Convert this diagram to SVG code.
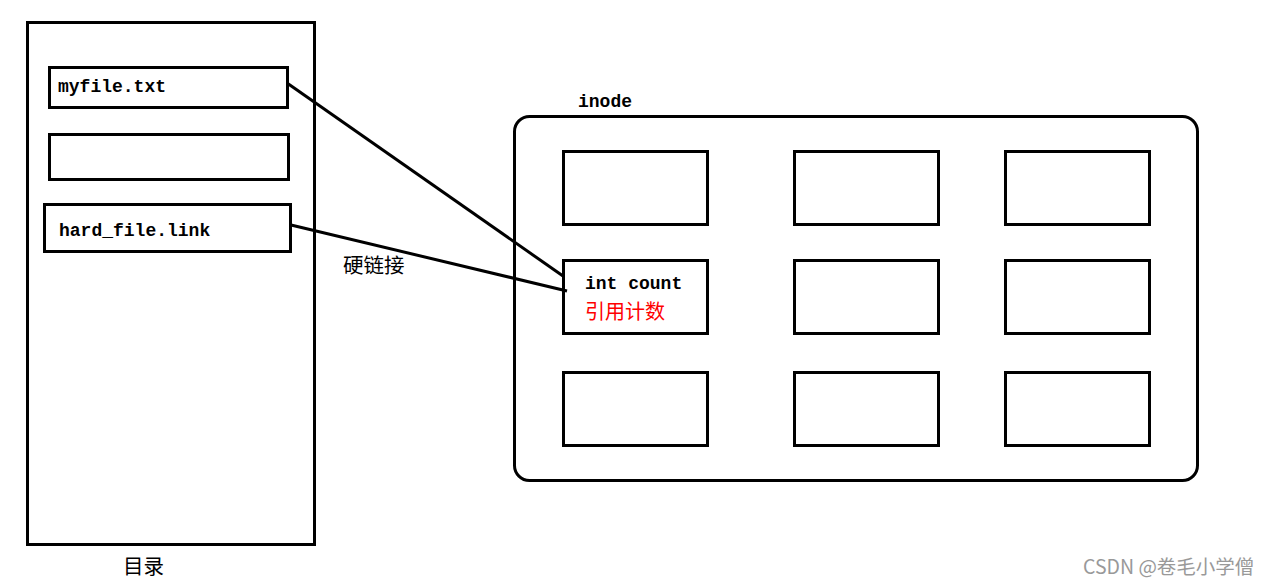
<svg xmlns="http://www.w3.org/2000/svg" width="1268" height="585" viewBox="0 0 1268 585">
<style>
.box{fill:none;stroke:#000;stroke-width:3}
.mono{font-family:"Liberation Mono","DejaVu Sans Mono",monospace;font-size:18px;font-weight:bold;fill:#000}
.cjk{font-family:"Noto Sans CJK SC",sans-serif;font-size:20.5px;fill:#000}
.conn{stroke:#000;stroke-width:3;fill:none}
</style>
<rect width="1268" height="585" fill="#fff"/>
<g id="directory">
<rect class="box" x="27.5" y="22.5" width="287" height="522"/>
<text class="cjk" x="123" y="574">目录</text>
</g>
<g id="myfile">
<rect class="box" x="49.5" y="67.5" width="238" height="40"/>
<text class="mono" x="58" y="92">myfile.txt</text>
</g>
<g id="empty-entry">
<rect class="box" x="49.5" y="134.5" width="239" height="45"/>
</g>
<g id="hardlink">
<rect class="box" x="44.5" y="204.5" width="246" height="47"/>
<text class="mono" x="59" y="236">hard_file.link</text>
</g>
<g id="inode">
<rect class="box" x="514.5" y="116.5" width="683" height="364" rx="15"/>
<text class="mono" x="578" y="107">inode</text>
</g>
<g id="inode-r1c1"><rect class="box" x="563.5" y="151.5" width="144" height="73"/></g>
<g id="inode-r1c2"><rect class="box" x="794.5" y="151.5" width="144" height="73"/></g>
<g id="inode-r1c3"><rect class="box" x="1005.5" y="151.5" width="144" height="73"/></g>
<g id="inode-r2c1">
<rect class="box" x="563.5" y="260.5" width="144" height="73"/>
<text class="mono" x="585" y="289">int count</text>
<text class="cjk" x="585" y="319" style="fill:#f00;font-size:20px">引用计数</text>
</g>
<g id="inode-r2c2"><rect class="box" x="794.5" y="260.5" width="144" height="73"/></g>
<g id="inode-r2c3"><rect class="box" x="1005.5" y="260.5" width="144" height="73"/></g>
<g id="inode-r3c1"><rect class="box" x="563.5" y="372.5" width="144" height="73"/></g>
<g id="inode-r3c2"><rect class="box" x="794.5" y="372.5" width="144" height="73"/></g>
<g id="inode-r3c3"><rect class="box" x="1005.5" y="372.5" width="144" height="73"/></g>
<g id="connectors">
<line class="conn" x1="287" y1="83" x2="563" y2="276"/>
<line class="conn" x1="291" y1="225" x2="567" y2="291"/>
<text class="cjk" x="343" y="273">硬链接</text>
</g>
<text x="1083" y="574" font-family="Noto Sans CJK SC, sans-serif" font-size="19.5" fill="#999">CSDN @卷毛小学僧</text>
</svg>
